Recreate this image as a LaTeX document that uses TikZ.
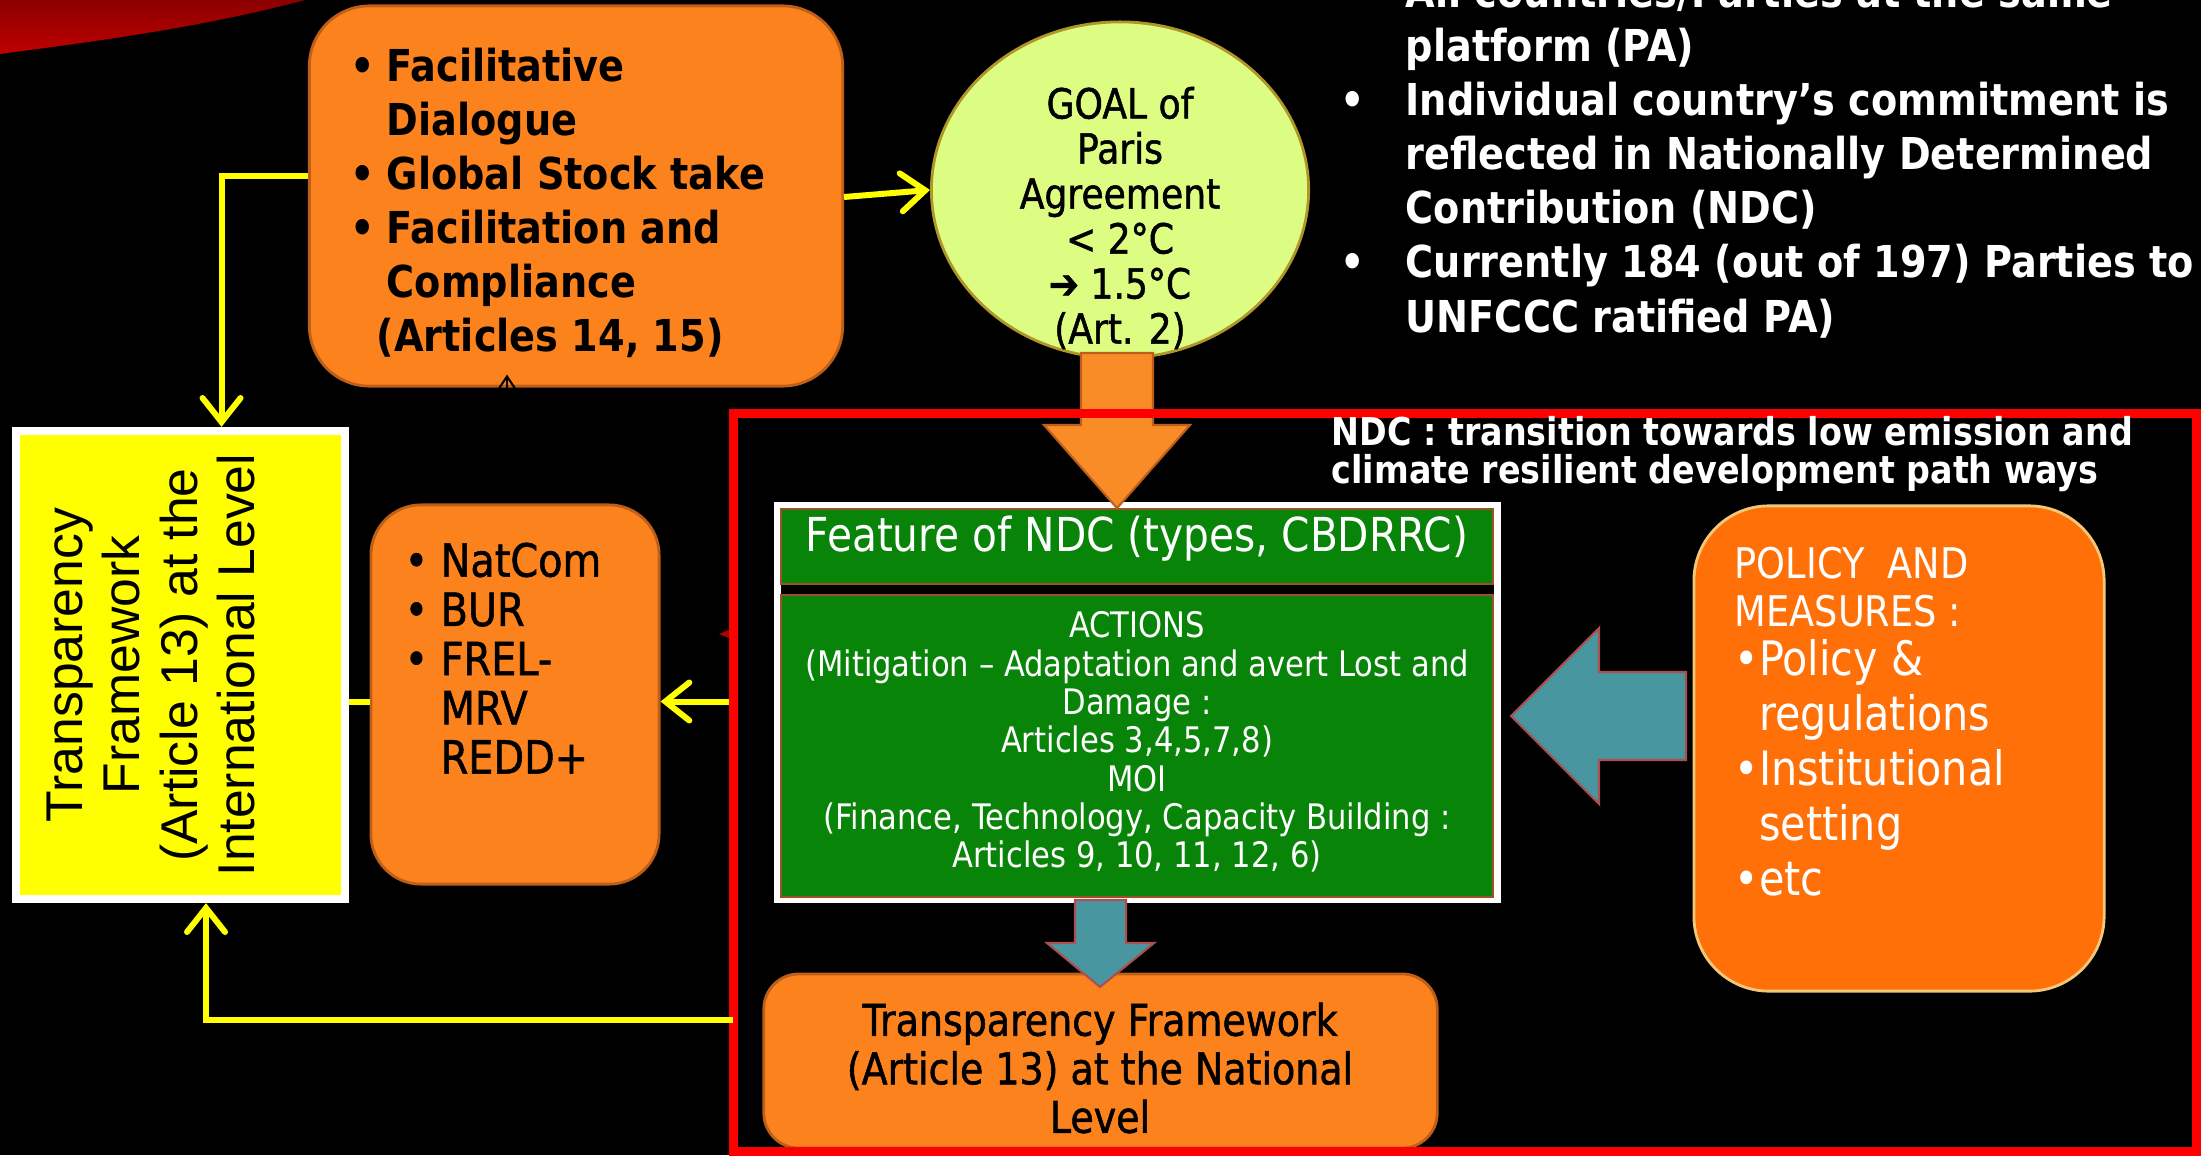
\documentclass[tikz,border=0pt]{standalone}
\usepackage{fontspec}
\setmainfont{DejaVu Sans}[FakeStretch=0.87]
\newfontfamily\medfont{DejaVu Sans}[FakeStretch=0.87,FakeBold=1.2]
\newfontfamily\arialfont{Liberation Sans}
\usetikzlibrary{arrows.meta,positioning,calc,shapes.geometric}
\definecolor{boxorange}{RGB}{252,130,30}
\definecolor{boxedge}{RGB}{190,95,25}
\definecolor{polorange}{RGB}{255,112,8}
\definecolor{poledge}{RGB}{240,200,120}
\definecolor{goalfill}{RGB}{221,253,130}
\definecolor{goaledge}{RGB}{175,150,40}
\definecolor{ndcgreen}{RGB}{8,132,8}
\definecolor{ndcedge}{RGB}{160,80,40}
\definecolor{arrowteal}{RGB}{72,150,160}
\definecolor{arrowedge}{RGB}{170,80,80}
\definecolor{arroworange}{RGB}{250,140,40}
\definecolor{linkyellow}{RGB}{255,255,0}
\definecolor{framered}{RGB}{255,0,0}
\newcommand{\setfs}[2]{\fontsize{#1}{#2}\selectfont}
\newcommand{\bul}{\makebox[0.36cm][l]{•}}
\newcommand{\wbul}{\makebox[0.65cm][l]{•}}

\begin{document}
\begin{tikzpicture}[x=0.01cm,y=-0.01cm,
  obox/.style={draw=boxedge,fill=boxorange,line width=0.8pt},
  txt/.style={inner sep=0pt,align=left},
  ylink/.style={draw=linkyellow,line width=1.7pt},
  yarrow/.style={ylink,-{Straight Barb[length=2.4mm,width=3.8mm,line cap=round]}},
  band/.style={draw=ndcedge,fill=ndcgreen,line width=0.5pt,minimum width=7.12cm,inner sep=0pt},
  blockarrow/.style={line width=0.6pt,line join=miter}]
\fill[black,use as bounding box] (0,0) rectangle (2201,1155);
\clip (0,0) rectangle (2201,1155);
\shade[top color=red!55!black,bottom color=red!75!black] (0,0) -- (305,0) .. controls (200,28) and (90,42) .. (0,54) -- cycle;

% boxes
\node[obox,minimum width=5.33cm,minimum height=3.8cm,rounded corners=0.6cm] (fac) at (576,196) {};
\node[ellipse,draw=goaledge,fill=goalfill,line width=0.8pt,minimum width=3.77cm,minimum height=3.36cm] (goal) at (1120,190) {};
\node[draw=white,fill=linkyellow,line width=2.3pt,minimum width=3.29cm,minimum height=4.68cm] (intl) at (180.5,665) {};
\node[obox,minimum width=2.88cm,minimum height=3.79cm,rounded corners=0.5cm] (natcom) at (515,694.5) {};
\node[draw=white,fill=black,line width=2pt,minimum width=7.2cm,minimum height=3.94cm] (ndc) at (1137.5,702.5) {};
\node[band,minimum height=0.75cm] (feat) at (1137,546.5) {};
\node[band,minimum height=3.02cm] (acts) at (1137,746) {};
\node[obox,minimum width=6.73cm,minimum height=1.74cm,rounded corners=0.35cm] (natl) at (1100.5,1061) {};
\node[draw=poledge,fill=polorange,line width=0.8pt,minimum width=4.1cm,minimum height=4.85cm,rounded corners=0.75cm] (pol) at (1899,748.5) {};

% block arrows
\draw[blockarrow,draw=boxedge,fill=arroworange] (1081,353) -- (1153,353) -- (1153,425) -- (1190,425) -- (feat.north -| 1117,0) -- (1044,425) -- (1081,425) -- cycle;
\draw[blockarrow,draw=arrowedge,fill=arrowteal] (1075,900) -- (1126,900) -- (1126,943) -- (1154,943) -- (1100,987) -- (1047,943) -- (1075,943) -- cycle;
\draw[blockarrow,draw=arrowedge,fill=arrowteal] (1686,672) -- (1599,672) -- (1599,628) -- (1511,716) -- (1599,804) -- (1599,760) -- (1686,760) -- cycle;
\node[draw=framered,line width=2.6pt,minimum width=14.62cm,minimum height=7.37cm] (frame) at (1465,782.5) {};

% texts
\node[txt,anchor=north west,font=\bfseries\setfs{12.5}{15.4}] (factxt) at (350,47)
  {\bul Facilitative\\ \hspace*{0.36cm}Dialogue\\ \bul Global Stock take\\ \bul Facilitation and\\ \hspace*{0.36cm}Compliance\\ \hspace*{0.26cm}(Articles 14, 15)};
\node[txt,align=center,font=\medfont\setfs{11.8}{12.8}] (goaltxt) at (1120,218)
  {GOAL of\\Paris\\Agreement\\< 2°C\\➔ 1.5°C\\(Art. 2)};
\node[txt,anchor=north west,text=white,font=\bfseries\setfs{12.5}{15.4}] (patxt) at (1340,-27)
  {\wbul All countries/Parties at the same\\ \hspace*{0.65cm}platform (PA)\\ \wbul Individual country’s commitment is\\ \hspace*{0.65cm}reflected in Nationally Determined\\ \hspace*{0.65cm}Contribution (NDC)\\ \wbul Currently 184 (out of 197) Parties to\\ \hspace*{0.65cm}UNFCCC ratified PA)};
\node[txt,anchor=north west,text=white,font=\bfseries\setfs{10.9}{10.8}] (pathtxt) at (1331,416)
  {NDC : transition towards low emission and\\climate resilient development path ways};
\node[txt,align=center,rotate=90,font=\arialfont\setfs{14.7}{16.3}] (intltxt) at (151,665)
  {Transparency\\Framework\\(Article 13) at the\\International Level};
\node[txt,anchor=north west,font=\medfont\setfs{13}{14}] (natcomtxt) at (404,542)
  {\bul NatCom\\ \bul BUR\\ \bul FREL-\\ \hspace*{0.36cm}MRV\\ \hspace*{0.36cm}REDD+};
\node[txt,align=center,text=white,font=\setfs{13.3}{14}] (feattxt) at (1137,539) {Feature of NDC (types, CBDRRC)};
\node[txt,align=center,text=white,font=\setfs{10}{10.9}] (actstxt) at (1137,742)
  {ACTIONS\\(Mitigation – Adaptation and avert Lost and\\Damage :\\Articles 3,4,5,7,8)\\MOI\\(Finance, Technology, Capacity Building :\\Articles 9, 10, 11, 12, 6)};
\node[txt,align=center,font=\medfont\setfs{12.4}{13.8}] (natltxt) at (1100,1068)
  {Transparency Framework\\(Article 13) at the National\\Level};
\node[txt,anchor=north west,text=white,font=\setfs{12}{13.7}] (poltitle) at (1734,546)
  {POLICY~ AND\\MEASURES :};
\node[txt,anchor=north west,text=white,font=\setfs{13.5}{15.6}] (polbody) at (1734,639)
  {•Policy \&\\ \phantom{•}regulations\\•Institutional\\ \phantom{•}setting\\•etc};

% connectors
\coordinate (fbottom) at (frame.west |- 0,1020);
\coordinate (nlink) at ([yshift=-0.07cm]natcom.west);
\draw[yarrow] ([yshift=0.2cm]fac.west) -| ([xshift=0.41cm]intl.north);
\draw[yarrow] ([yshift=-0.01cm]fac.east) -- (goal.west);
\draw[yarrow] ([yshift=-0.07cm]natcom.east -| frame.west) -- ([yshift=-0.07cm]natcom.east);
\draw[ylink] (nlink -| intl.east) -- (nlink);
\draw[yarrow] ([xshift=1pt]fbottom) -| ([xshift=0.255cm]intl.south);
\draw[black,line width=0.6pt,-{Straight Barb[length=1.2mm,width=1.6mm]}] ([xshift=-0.08cm]natcom.north) -- ([xshift=-0.08cm,yshift=0.13cm]natcom.north |- fac.south);
\fill[red!70!black] (729,630) -- (719,634) -- (729,638) -- cycle;
\end{tikzpicture}
\end{document}
